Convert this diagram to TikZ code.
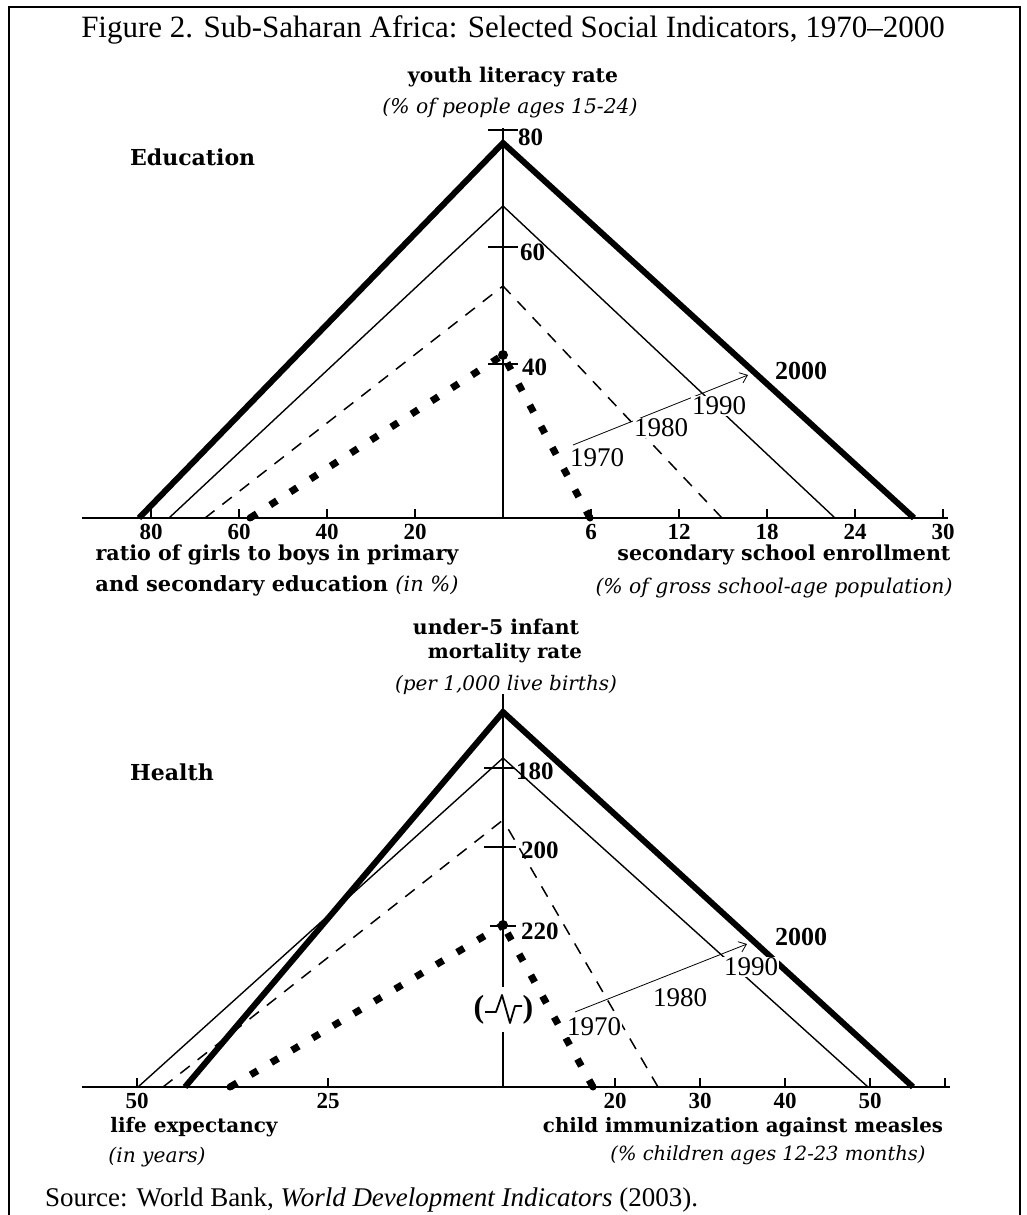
\documentclass[tikz,border=0pt]{standalone}
\usepackage{fontspec}
\setmainfont{Liberation Serif}
\newfontfamily\lbl{DejaVu Serif}
\usetikzlibrary{arrows.meta}
\newcommand{\fw}[2]{\resizebox{#1pt}{!}{#2}}
\tikzset{
  yrA/.style={line width=6pt, line join=miter},
  yrB/.style={line width=1.4pt},
  yrC/.style={line width=1.5pt, dash pattern=on 12pt off 10pt},
  yrD/.style={line width=7pt, dash pattern=on 8pt off 16pt},
  axisline/.style={line width=2.4pt},
  tickline/.style={line width=1.6pt},
  framestyle/.style={line width=2.6pt},
  bl/.style={font=\lbl\bfseries, inner sep=0pt},
  itl/.style={font=\lbl\itshape, inner sep=0pt},
  num/.style={font=\bfseries\fontsize{23}{23}\selectfont, inner sep=0pt},
  vnum/.style={font=\bfseries\fontsize{25}{25}\selectfont, inner sep=0pt, anchor=west},
  yrlab/.style={font=\fontsize{27}{27}\selectfont, fill=white, inner sep=1pt},
  yrbold/.style={font=\bfseries\fontsize{26}{26}\selectfont, inner sep=0pt},
  sect/.style={font=\lbl\bfseries\fontsize{22}{22}\selectfont, inner sep=0pt, anchor=west},
  arr/.style={line width=0.8pt, -{Straight Barb[length=7pt,width=11pt]}},
  blob/.style={fill=black}
}
\begin{document}
\begin{tikzpicture}[x=1pt,y=-1pt]
\useasboundingbox (0,0) rectangle (1026,1215);
\fill[white] (0,0) rectangle (1026,1215);
% frame
\draw[framestyle] (9,1215) -- (9,7) -- (1020,7) -- (1020,1215);
% title and source
\node[font=\fontsize{31}{31}\selectfont, anchor=base, inner sep=0pt] (title) at (513,38)
  {Figure 2. Sub-Saharan Africa: Selected Social Indicators, 1970--2000};
\node[font=\fontsize{27}{27}\selectfont, anchor=base west, inner sep=0pt] (source) at (45,1206)
  {Source: World Bank, \textit{World Development Indicators} (2003).};

%%%%%%%%%%%%%%%% EDUCATION
\coordinate (eTop) at (503,128);
\coordinate (eBot) at (503,518);
\coordinate (eBL) at (82,518);
\coordinate (eBR) at (948,518);
\coordinate (e00) at (503,143);
\coordinate (e90) at (503,206);
\coordinate (e80) at (503,286);
\coordinate (e70) at (503,355);
\coordinate (e00l) at (139,518); \coordinate (e00r) at (914,518);
\coordinate (e90l) at (169,518); \coordinate (e90r) at (835,518);
\coordinate (e80l) at (205,518); \coordinate (e80r) at (722,518);
\coordinate (e70l) at (250,518); \coordinate (e70r) at (590,518);

\draw[yrB] (e90l) -- (e90) -- (e90r);
\draw[yrC] (e80l) -- (e80);
\draw[yrC] (e80r) -- (e80);
\draw[yrD] (e70l) -- (e70);
\draw[yrD] (e70r) -- (e70);
\fill[blob] (e70) circle (5);
\fill[blob] (e70l) circle (3.5);
\fill[blob] (e70r) circle (3.5);
\draw[yrA] (e00l) -- (e00) -- (e00r);

\draw[axisline] (eTop) -- (eBot);
\draw[axisline] (eBL) -- (eBR);
\draw[tickline] (488,130) -- (518,130);
\draw[tickline] (488,247) -- (518,247);
\draw[tickline] (488,364) -- (518,364);
\node[vnum] (e80lab) at (518,137) {80};
\node[vnum] (e60lab) at (520,252) {60};
\node[vnum] (e40lab) at (522,367) {40};

\foreach \x/\t [count=\i] in {151/80,239/60,327/40,415/20,591/6,679/12,767/18,855/24,943/30}{
  \draw[tickline] (\x,518) -- (\x,509);
  \node[num] (etk\i) at (\x,532) {\t};
}

\coordinate (eArS) at (573,445);
\coordinate (eArE) at (748,375);
\draw[arr] (eArS) -- (eArE);
\node[yrlab] (e1970) at (597,458) {1970};
\node[yrlab] (e1980) at (661,428) {1980};
\node[yrlab] (e1990) at (719,406) {1990};
\node[yrbold] (e2000) at (801,371) {2000};

\node[sect] (eSect) at (130,157) {Education};
\node[bl] (eTopLab) at (513,77) {\fw{210}{youth literacy rate}};
\node[itl] (eTopSub) at (510,108) {\fw{255}{(\% of people ages 15-24)}};
\node[bl] (eLeft1) at (277,555) {\fw{363}{ratio of girls to boys in primary}};
\node[bl] (eLeft2) at (277,586) {\fw{363}{and secondary education \textmd{\textit{(in \%)}}}};
\node[bl] (eRight1) at (784,555) {\fw{333}{secondary school enrollment}};
\node[itl] (eRight2) at (774,588) {\fw{357}{(\% of gross school-age population)}};

%%%%%%%%%%%%%%%% HEALTH
\coordinate (hTop) at (503,694);
\coordinate (hBrkA) at (503,987);
\coordinate (hBrkB) at (503,1032);
\coordinate (hBot) at (503,1087);
\coordinate (hBL) at (82,1087);
\coordinate (hBR) at (950,1087);
\coordinate (h00) at (503,712);
\coordinate (h90) at (503,758);
\coordinate (h80) at (503,820);
\coordinate (h70) at (503,925);
\coordinate (h00l) at (185,1087); \coordinate (h00r) at (913,1087);
\coordinate (h90l) at (138,1087); \coordinate (h90r) at (868,1087);
\coordinate (h80l) at (163,1087); \coordinate (h80r) at (658,1087);
\coordinate (h70l) at (230,1087); \coordinate (h70r) at (593,1087);

\draw[yrB] (h90l) -- (h90) -- (h90r);
\draw[yrC] (h80l) -- (h80);
\draw[yrC] (h80r) -- (h80);
\draw[yrD] (h70l) -- (h70);
\draw[yrD] (h70r) -- (h70);
\fill[blob] (h70) circle (5);
\fill[blob] (h70l) circle (3.5);
\fill[blob] (h70r) circle (3.5);
\draw[yrA] (h00l) -- (h00) -- (h00r);

\draw[axisline] (hTop) -- (hBrkA);
\draw[axisline] (hBrkB) -- (hBot);
\draw[axisline] (hBL) -- (hBR);
\draw[tickline] (484,768) -- (514,768);
\draw[tickline] (484,847) -- (516,847);
\draw[tickline] (490,926) -- (516,926);
\node[vnum] (h180lab) at (516,771) {180};
\node[vnum] (h200lab) at (521,850) {200};
\node[vnum] (h220lab) at (521,931) {220};

\foreach \x/\t [count=\i] in {137/50,328/25,615/20,700/30,785/40,870/50}{
  \draw[tickline] (\x,1087) -- (\x,1078);
  \node[num] (htk\i) at (\x,1101) {\t};
}
\draw[tickline] (945,1087) -- (945,1078);

% axis break symbol
\node[font=\bfseries\fontsize{32}{32}\selectfont, inner sep=0pt] (brkL) at (479,1010) {(};
\node[font=\bfseries\fontsize{32}{32}\selectfont, inner sep=0pt] (brkR) at (528,1010) {)};
\draw[line width=1.8pt, line join=round] (485,1012) -- (496,1012) -- (502,995) -- (510,1023) -- (515,1006) -- (522,1006);

\coordinate (hArS) at (575,1012);
\coordinate (hArE) at (747,944);
\draw[arr] (hArS) -- (hArE);
\node[yrlab] (h1970) at (594,1027) {1970};
\node[yrlab] (h1980) at (680,998) {1980};
\node[yrlab] (h1990) at (751,967) {1990};
\node[yrbold] (h2000) at (801,937) {2000};

\node[sect] (hSect) at (130,772) {Health};
\node[bl] (hTop1) at (496,627) {\fw{166}{under-5 infant}};
\node[bl] (hTop2) at (505,653) {\fw{154}{mortality rate}};
\node[itl] (hTop3) at (506,685) {\fw{222}{(per 1,000 live births)}};
\node[bl] (hLeft1) at (194,1127) {\fw{167}{life expectancy}};
\node[itl] (hLeft2) at (157,1157) {\fw{97}{(in years)}};
\node[bl] (hRight1) at (743,1127) {\fw{400}{child immunization against measles}};
\node[itl] (hRight2) at (768,1155) {\fw{315}{(\% children ages 12-23 months)}};
\end{tikzpicture}
\end{document}
